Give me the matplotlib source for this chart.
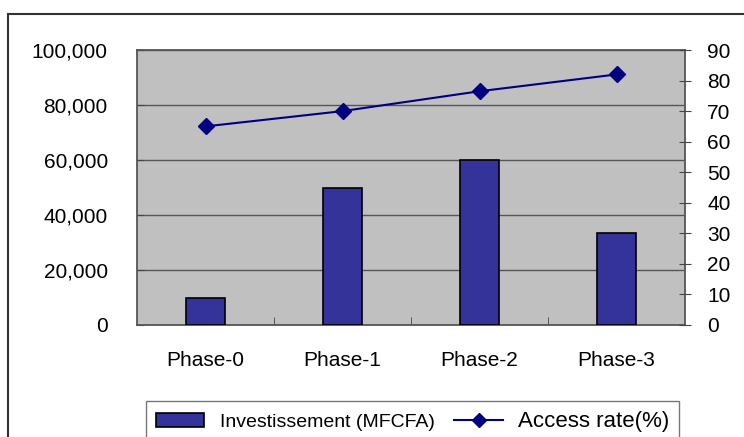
import numpy as np
import matplotlib.pyplot as plt
from matplotlib.patches import Rectangle, Patch
from matplotlib.lines import Line2D
from matplotlib.ticker import FuncFormatter, FixedLocator

phases = ["Phase-0", "Phase-1", "Phase-2", "Phase-3"]
investissement = [10000, 50000, 60000, 33500]
access_rate = [65, 70, 76.5, 82]

plt.rcParams['font.family'] = ['Liberation Sans', 'DejaVu Sans']

fig = plt.figure(figsize=(7.44, 4.37), dpi=100)

# cadre exterieur (coupe en bas et a droite)
fig.patches.append(Rectangle((8 / 744, -0.1), 1.2, 1 - 14 / 437 + 0.1,
                             transform=fig.transFigure, fill=False,
                             edgecolor="#333333", linewidth=1.5))

ax = fig.add_axes([137 / 744, 1 - 325 / 437, (685 - 137) / 744, (325 - 50) / 437])
ax.set_facecolor("#C0C0C0")
x = np.arange(len(phases))
ax.bar(x, investissement, width=0.28, color="#333399", edgecolor="black",
       linewidth=1.2, zorder=3)
ax.set_xlim(-0.5, len(phases) - 0.5)
ax.set_ylim(0, 100000)
ax.set_yticks(np.arange(0, 100001, 20000))
ax.yaxis.set_major_formatter(FuncFormatter(lambda v, p: f"{int(v):,}"))
ax.grid(axis="y", color="#555555", linewidth=1.0, zorder=1)
ax.set_xticks(x)
ax.set_xticklabels(phases, fontsize=15)
ax.tick_params(axis="x", length=0, pad=19)
ax.xaxis.set_minor_locator(FixedLocator([0.5, 1.5, 2.5]))
ax.tick_params(axis="x", which="minor", direction="in", length=6, color="#444444")
ax.tick_params(axis="y", labelsize=15, direction="in", length=5, color="#444444", pad=21)
for s in ax.spines.values():
    s.set_color("#555555")
    s.set_linewidth(1.3)

ax2 = ax.twinx()
ax2.plot(x, access_rate, color="#000080", marker="D", markersize=8,
         linewidth=1.5, zorder=4)
ax2.set_ylim(0, 90)
ax2.set_yticks(np.arange(0, 91, 10))
ax2.tick_params(axis="y", labelsize=15, direction="inout", length=8,
                color="#444444", pad=12)
for s in ax2.spines.values():
    s.set_visible(False)

handles = [Patch(facecolor="#333399", edgecolor="black", linewidth=1.2),
           Line2D([0], [0], color="#000080", marker="D", markersize=7, linewidth=1.5)]
leg = fig.legend(handles, ["Investissement (MFCFA)", "Access rate(%)"], ncol=2,
                 loc="upper left", bbox_to_anchor=(146 / 744, 1 - 401 / 437),
                 borderaxespad=0, frameon=True, fancybox=False, edgecolor="#555555",
                 handlelength=2.5, handleheight=0.75, handletextpad=0.8,
                 columnspacing=1.0, borderpad=0.5, fontsize=14)
leg.get_texts()[1].set_fontsize(16)
leg.get_frame().set_linewidth(1.0)

fig.savefig("out.png", dpi=100)
